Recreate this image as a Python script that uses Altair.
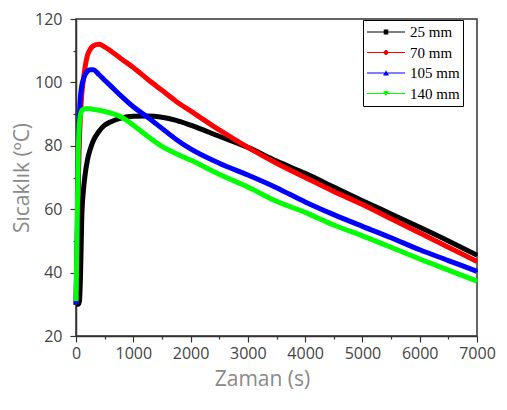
import altair as alt
import pandas as pd

times = [0, 20, 40, 60, 80, 100, 130, 160, 200, 250, 300, 400, 500, 600, 800,
         1000, 1250, 1500, 1750, 2000, 2500, 3000, 3500, 4000, 4500, 5000,
         5500, 6000, 6500, 7000]
s25 = [30, 30, 30, 31, 40, 57, 66, 71, 75.5, 79, 81.5, 84.5, 86.5, 87.5, 88.8,
       89.3, 89.4, 89, 88, 86.5, 83, 79.5, 75.2, 71.3, 67, 62.7, 58.5, 54.3, 50, 45.5]
s70 = [30, 48, 68, 82, 90, 96, 101, 105, 108.5, 110.5, 111.5, 112, 111.2, 110, 107.3,
       104.7, 101, 97.5, 94, 91, 85, 79.5, 74.5, 70, 65.6, 61.5, 57, 52.5, 48, 43.5]
s105 = [30, 50, 75, 90, 96, 99, 101, 102.5, 103.5, 104, 104, 102.5, 100.7, 99, 95.5,
        92.3, 89, 85.5, 82, 79, 74.5, 70.8, 66.8, 62.3, 58.3, 54.6, 51, 47.2, 43.8, 40.4]
s140 = [31, 55, 78, 87, 90, 91, 91.5, 91.7, 91.7, 91.7, 91.5, 91.2, 90.8, 90.4, 89,
        86.5, 83, 79.8, 77.5, 75.5, 71, 67, 62.5, 59, 55, 51.6, 48, 44.3, 40.8, 37.3]

series_names = ["25 mm", "70 mm", "105 mm", "140 mm"]
series_colors = ["#000000", "#ff0000", "#0000ff", "#00ff00"]

rows = []
for name, vals in zip(series_names, [s25, s70, s105, s140]):
    for t, v in zip(times, vals):
        rows.append({"t": t, "T": v, "series": name})
df = pd.DataFrame(rows)

# legend symbols: a horizontal line with a small marker drawn by strokes
line = "M-1,0H1"
sq = line + "M-0.12,-0.1H0.12M-0.12,-0.05H0.12M-0.12,0H0.12M-0.12,0.05H0.12M-0.12,0.1H0.12"
circ = line + "M-0.06,-0.1H0.06M-0.11,-0.05H0.11M-0.12,0H0.12M-0.11,0.05H0.11M-0.06,0.1H0.06"
tri_up = line + "M-0.02,-0.1H0.02M-0.05,-0.05H0.05M-0.08,0H0.08M-0.11,0.05H0.11M-0.14,0.1H0.14"
tri_dn = line + "M-0.14,-0.1H0.14M-0.11,-0.05H0.11M-0.08,0H0.08M-0.05,0.05H0.05M-0.02,0.1H0.02"

x_scale = alt.Scale(domain=[0, 7000], nice=False, zero=False)
y_scale = alt.Scale(domain=[20, 120], nice=False, zero=False)
color_scale = alt.Scale(domain=series_names, range=series_colors)
shape_scale = alt.Scale(domain=series_names, range=[sq, circ, tri_up, tri_dn])

x_axis = alt.Axis(
    title="Zaman (s)",
    values=list(range(0, 7001, 500)),
    labelExpr="datum.value % 1000 === 0 ? datum.label : ''",
    format="d",
    tickSize={"condition": {"test": "datum.value % 1000 === 0", "value": 6}, "value": 3},
    labelPadding=3,
    labelFlush=False,
    titlePadding=7,
    titleX=186,
    titleAlign="center",
)
y_axis = alt.Axis(
    title="Sıcaklık (ºC)",
    values=list(range(20, 121, 10)),
    labelExpr="datum.value % 20 === 0 ? datum.label : ''",
    tickSize={"condition": {"test": "datum.value % 20 === 0", "value": 6}, "value": 3},
    labelPadding=8,
    labelFlush=False,
    titlePadding=2,
)

legend = alt.Legend(
    title=None,
    orient="none",
    legendX=287,
    legendY=1,
    strokeColor="#000000",
    padding=3,
    symbolSize=1444,
    symbolStrokeWidth=1.2,
    clipHeight=18,
    rowPadding=2.5,
    labelFont="Liberation Serif",
    labelFontSize=15,
    labelColor="#000000",
    labelOffset=4,
)

base = alt.Chart(df)

points = base.mark_point(filled=False, size=4, strokeWidth=1.2, opacity=1).encode(
    x=alt.X("t:Q", scale=x_scale, axis=x_axis),
    y=alt.Y("T:Q", scale=y_scale, axis=y_axis),
    color=alt.Color("series:N", scale=color_scale, legend=legend),
    shape=alt.Shape("series:N", scale=shape_scale, legend=legend),
)

lines = base.mark_line(strokeWidth=5, interpolate="monotone").encode(
    x=alt.X("t:Q", scale=x_scale, axis=x_axis),
    y=alt.Y("T:Q", scale=y_scale, axis=y_axis),
    stroke=alt.Stroke("series:N", scale=color_scale, legend=None),
)

chart = alt.layer(points, lines).resolve_scale(
    stroke="independent"
).properties(
    width=401,
    height=317,
    autosize=alt.AutoSizeParams(type="none"),
    padding={"left": 68, "top": 11, "right": 22, "bottom": 70},
).configure_view(
    stroke="#333333", strokeWidth=1.5
).configure_axis(
    grid=False,
    domainColor="#333333",
    domainWidth=1.5,
    tickColor="#333333",
    tickWidth=1.2,
    labelFont="Open Sans",
    labelFontSize=16,
    labelColor="#444444",
    titleFont="Open Sans",
    titleFontSize=21,
    titleFontWeight="normal",
    titleColor="#8a8a8a",
    labelBound=False,
)

chart.save("out.html", embed_options={"renderer": "svg", "actions": False})
